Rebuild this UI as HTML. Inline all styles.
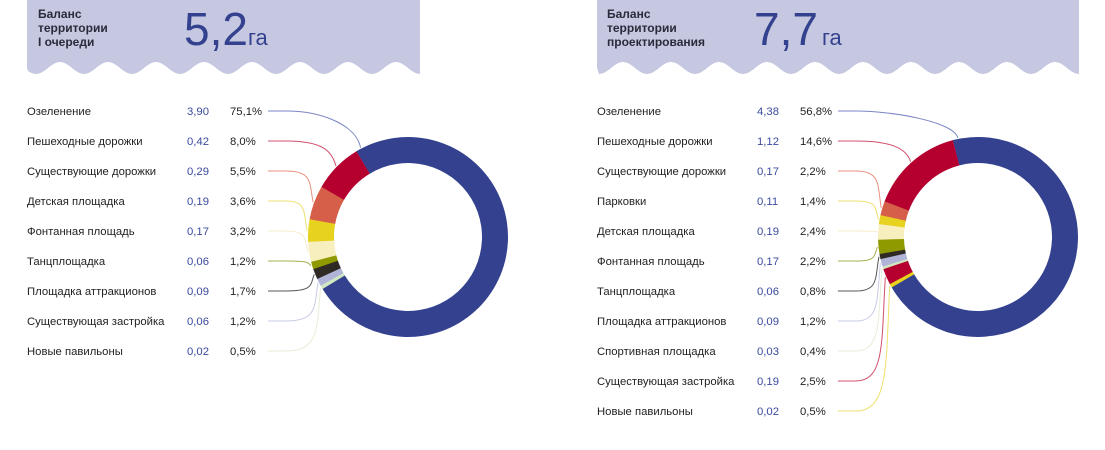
<!DOCTYPE html>
<html><head><meta charset="utf-8"><style>
html,body{margin:0;padding:0;background:#fff;}
svg{display:block;font-family:"Liberation Sans",sans-serif;}
</style></head><body>
<svg id="s" width="1105" height="450" viewBox="0 0 1105 450" xmlns="http://www.w3.org/2000/svg">
<g id="hdr"></g>
<text x="38" y="18" font-size="12" font-weight="bold" fill="#2a2a3a">Баланс</text>
<text x="38" y="32" font-size="12" font-weight="bold" fill="#2a2a3a">территории</text>
<text x="38" y="46" font-size="12" font-weight="bold" fill="#2a2a3a">I очереди</text>
<text x="184" y="45" font-size="46" fill="#33418f">5,2<tspan font-size="22">га</tspan></text>
<text x="607" y="18" font-size="12" font-weight="bold" fill="#2a2a3a">Баланс</text>
<text x="607" y="32" font-size="12" font-weight="bold" fill="#2a2a3a">территории</text>
<text x="607" y="46" font-size="12" font-weight="bold" fill="#2a2a3a">проектирования</text>
<text x="754" y="45" font-size="46" fill="#33418f">7,7<tspan font-size="22" dx="4">га</tspan></text>
<g id="g"></g>
</svg>
<script>
var NS="http://www.w3.org/2000/svg",g=document.getElementById('g'),h=document.getElementById('hdr');
function el(t,a,p){var e=document.createElementNS(NS,t);for(var k in a)e.setAttribute(k,a[k]);(p||g).appendChild(e);return e;}
function panel(x0,x1){var d="M"+x0+",0 L"+x1+",0 L"+x1+",68";var per=48;for(var x=x1;x>x0;x-=2){var y=68+6*Math.cos((x-x1)/per*2*Math.PI);d+=" L"+x+","+y.toFixed(1);}d+=" L"+x0+",68 Z";el('path',{d:d,fill:'#c5c8e0'},h);}
panel(27,420);panel(597,1079);
var C={blue:'#33418f',red:'#b5002f',coral:'#d65f4a',yel:'#e6d21f',pale:'#f8efbe',olive:'#8f9a00',blk:'#2f2a26',lav:'#b0b5d8',grn:'#cfe8c0'};
var L={blue:'#7b86c4',red:'#d0506e',coral:'#e89080',yel:'#eee070',pale:'#f5eccc',olive:'#a8b050',blk:'#555',lav:'#c8cbe6',grn:'#e6eed6'};
function pt(cx,cy,r,a){var t=a*Math.PI/180;return[cx+r*Math.sin(t),cy-r*Math.cos(t)];}
function arc(cx,cy,R,r,a0,a1,col){var p1=pt(cx,cy,R,a0),p2=pt(cx,cy,R,a1),p3=pt(cx,cy,r,a1),p4=pt(cx,cy,r,a0);var lg=Math.abs(a1-a0)>180?1:0;var sw=a1>a0?1:0;
el('path',{d:"M"+p1+" A"+R+","+R+" 0 "+lg+","+sw+" "+p2+" L"+p3+" A"+r+","+r+" 0 "+lg+","+(1-sw)+" "+p4+" Z",fill:col});}
function chart(cfg){
 var cx=cfg.cx,cy=cfg.cy,R=100,r=74;
 arc(cx,cy,R,r,cfg.start,cfg.end+360,C.blue);
 var a=cfg.start,mids=[];
 cfg.segs.forEach(function(s){var w=s[1]*cfg.k;arc(cx,cy,R,r,a,a-w-0.3,C[s[0]]);mids.push([s[0],a-w/2]);a-=w;});
 arc(cx,cy,R,r,cfg.start-0.01,cfg.start+2,C.blue);
 cfg.rows.forEach(function(row,i){var y=111+30*i;
  el('text',{x:cfg.x,y:y+4,'font-size':11.3,fill:'#222'}).textContent=row[0];
  el('text',{x:cfg.x+160,y:y+4,'font-size':11.3,fill:'#3a4aa0'}).textContent=row[1];
  el('text',{x:cfg.x+203,y:y+4,'font-size':11.3,fill:'#222'}).textContent=row[2];
  var key,ang;if(i==0){key='blue';ang=cfg.start+3;}else{key=mids[i-1][0];ang=mids[i-1][1];}
  var tp=pt(cx,cy,R+1,ang),x0=cfg.x+241;
  var cxp=Math.min(tp[0]-10,x0+45);
  el('path',{d:"M"+x0+","+y+" L"+(x0+18)+","+y+" C"+(cxp+10)+","+y+" "+(tp[0]-4)+","+(y+(tp[1]-y)*0.4)+" "+tp[0]+","+tp[1],fill:'none',stroke:L[key],'stroke-width':1});
 });
}
chart({cx:408,cy:237,x:27,start:-31,end:-121,k:90/24.9,
 segs:[['red',8],['coral',5.5],['yel',3.6],['pale',3.2],['olive',1.2],['blk',1.7],['lav',1.2],['grn',0.5]],
 rows:[['Озеленение','3,90','75,1%'],['Пешеходные дорожки','0,42','8,0%'],['Существующие дорожки','0,29','5,5%'],['Детская площадка','0,19','3,6%'],['Фонтанная площадь','0,17','3,2%'],['Танцплощадка','0,06','1,2%'],['Площадка аттракционов','0,09','1,7%'],['Существующая застройка','0,06','1,2%'],['Новые павильоны','0,02','0,5%']]});
chart({cx:978,cy:237,x:597,start:-14.5,end:-120,k:105.5/28.2,
 segs:[['red',14.6],['coral',2.2],['yel',1.4],['pale',2.4],['olive',2.2],['blk',0.8],['lav',1.2],['grn',0.4],['red',2.5],['yel',0.5]],
 rows:[['Озеленение','4,38','56,8%'],['Пешеходные дорожки','1,12','14,6%'],['Существующие дорожки','0,17','2,2%'],['Парковки','0,11','1,4%'],['Детская площадка','0,19','2,4%'],['Фонтанная площадь','0,17','2,2%'],['Танцплощадка','0,06','0,8%'],['Площадка аттракционов','0,09','1,2%'],['Спортивная площадка','0,03','0,4%'],['Существующая застройка','0,19','2,5%'],['Новые павильоны','0,02','0,5%']]});
</script>
</body></html>
